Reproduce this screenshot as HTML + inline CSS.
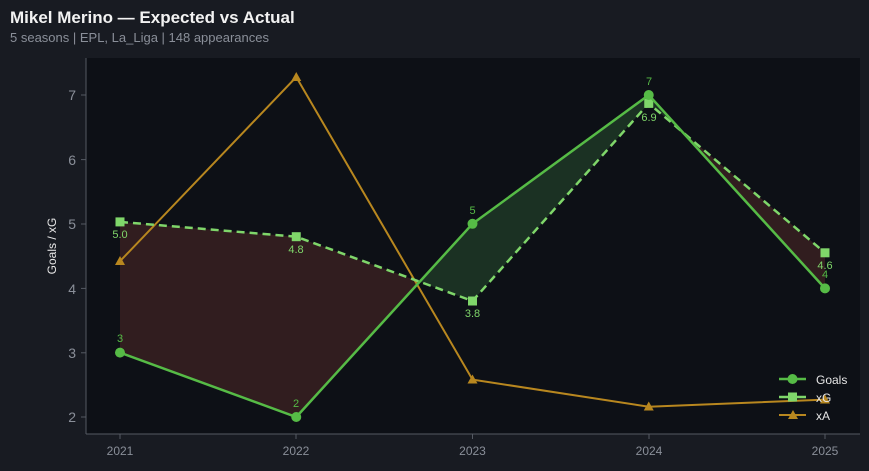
<!DOCTYPE html><html><head><style>body{margin:0;background:#181b22;width:869px;height:466px;overflow:hidden;font-family:"Liberation Sans",sans-serif}</style></head><body>
<svg width="869" height="466" xmlns="http://www.w3.org/2000/svg" font-family="Liberation Sans, sans-serif">
<rect width="869" height="466" fill="#181b22"/>
<text x="10" y="23" fill="#f2f2f2" font-size="17" font-weight="bold">Mikel Merino — Expected vs Actual</text>
<text x="10" y="42" fill="#8a8f99" font-size="13">5 seasons | EPL, La_Liga | 148 appearances</text>
<rect x="86" y="58" width="774" height="376" fill="#0d1016"/>
<line x1="86" y1="58" x2="86" y2="434" stroke="#555a63"/>
<line x1="86" y1="434" x2="860" y2="434" stroke="#555a63"/>
<g fill="#8a8f99" font-size="14" text-anchor="end">
<text x="76" y="100">7</text><text x="76" y="165">6</text><text x="76" y="229">5</text><text x="76" y="294">4</text><text x="76" y="358">3</text><text x="76" y="422">2</text></g>
<g stroke="#555a63"><line x1="81" y1="95" x2="86" y2="95"/><line x1="81" y1="159.6" x2="86" y2="159.6"/><line x1="81" y1="224" x2="86" y2="224"/><line x1="81" y1="288.4" x2="86" y2="288.4"/><line x1="81" y1="352.8" x2="86" y2="352.8"/><line x1="81" y1="417" x2="86" y2="417"/>
<line x1="120" y1="434" x2="120" y2="439"/><line x1="296" y1="434" x2="296" y2="439"/><line x1="472.5" y1="434" x2="472.5" y2="439"/><line x1="649" y1="434" x2="649" y2="439"/><line x1="825" y1="434" x2="825" y2="439"/></g>
<g fill="#8a8f99" font-size="12" text-anchor="middle"><text x="120" y="455">2021</text><text x="296" y="455">2022</text><text x="472.5" y="455">2023</text><text x="649" y="455">2024</text><text x="825" y="455">2025</text></g>
<text transform="translate(56,246) rotate(-90)" fill="#e6e6e6" font-size="12" text-anchor="middle">Goals / xG</text>
<polygon points="120,221.9 296.25,236.7 419.6,281.8 296.25,417 120,352.6" fill="#4a2626" fill-opacity="0.6"/>
<polygon points="419.6,281.8 472.5,301 648.75,103.4 682.4,131.7 648.75,95 472.5,223.8" fill="#22402a" fill-opacity="0.7"/>
<polygon points="682.4,131.7 825,252.8 825,288.4" fill="#4a2626" fill-opacity="0.6"/>
<polyline points="120,261.2 296.25,77 472.5,379.6 648.75,406.7 825,399.6" fill="none" stroke="#b8871f" stroke-width="2"/>
<g fill="#b8871f"><path d="M120,256 l5,9 h-10z"/><path d="M296.25,72 l5,9 h-10z"/><path d="M472.5,374.5 l5,9 h-10z"/><path d="M648.75,401.5 l5,9 h-10z"/><path d="M825,394.5 l5,9 h-10z"/></g>
<polyline points="120,221.9 296.25,236.7 472.5,301 648.75,103.4 825,252.8" fill="none" stroke="#7fd66a" stroke-width="2.5" stroke-dasharray="8,5"/>
<g fill="#7fd66a"><rect x="115.5" y="217.4" width="9" height="9"/><rect x="291.75" y="232.2" width="9" height="9"/><rect x="468" y="296.5" width="9" height="9"/><rect x="644.25" y="98.9" width="9" height="9"/><rect x="820.5" y="248.3" width="9" height="9"/></g>
<polyline points="120,352.6 296.25,417 472.5,223.8 648.75,95 825,288.4" fill="none" stroke="#56bb46" stroke-width="2.5"/>
<g fill="#56bb46"><circle cx="120" cy="352.6" r="5"/><circle cx="296.25" cy="417" r="5"/><circle cx="472.5" cy="223.8" r="5"/><circle cx="648.75" cy="95" r="5"/><circle cx="825" cy="288.4" r="5"/></g>
<g fill="#56bb46" font-size="11" text-anchor="middle"><text x="120" y="342">3</text><text x="296" y="407">2</text><text x="472.5" y="214">5</text><text x="649" y="85">7</text><text x="825" y="278">4</text></g>
<g fill="#7fd66a" font-size="11" text-anchor="middle"><text x="120" y="238">5.0</text><text x="296" y="253">4.8</text><text x="472.5" y="317">3.8</text><text x="649" y="121">6.9</text><text x="825" y="269">4.6</text></g>
<line x1="779" y1="379" x2="806" y2="379" stroke="#56bb46" stroke-width="2.5"/><circle cx="792.5" cy="379" r="5" fill="#56bb46"/>
<line x1="779" y1="397" x2="806" y2="397" stroke="#7fd66a" stroke-width="2.5"/><rect x="788" y="392.5" width="9" height="9" fill="#7fd66a"/>
<line x1="779" y1="415" x2="806" y2="415" stroke="#b8871f" stroke-width="2"/><path d="M793,410 l5,9 h-10z" fill="#b8871f"/>
<g fill="#e6e6e6" font-size="12"><text x="816" y="384">Goals</text><text x="816" y="402">xG</text><text x="816" y="420">xA</text></g>
</svg></body></html>
